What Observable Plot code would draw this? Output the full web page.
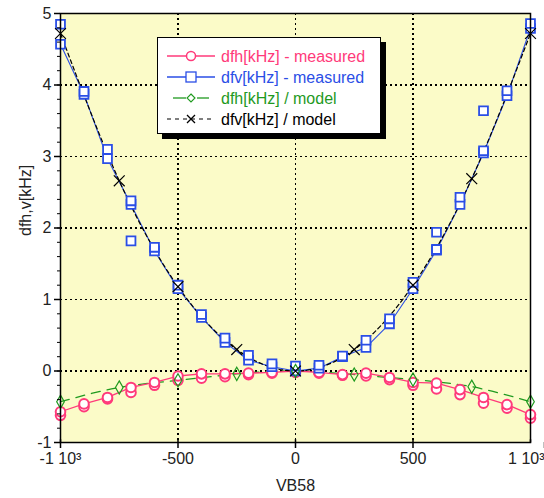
<!DOCTYPE html>
<html>
<head>
<meta charset="utf-8">
<script src="https://cdn.jsdelivr.net/npm/d3@7"></script>
<script src="https://cdn.jsdelivr.net/npm/@observablehq/plot@0.6"></script>
<style>
  html, body { margin: 0; padding: 0; background: #ffffff; }
  #wrap { position: relative; width: 544px; height: 498px; font-family: "Liberation Sans", Arial, sans-serif; }
  #legend { position: absolute; left: 157px; top: 37px; width: 222px; height: 95px; background: #ffffff;
            border: 1px solid #000; box-shadow: 5px 5px 0 #000; }
  #legend svg { display: block; }
  g[aria-label="rule"] line { stroke-dasharray: 2 3 !important; shape-rendering: crispEdges; }
</style>
</head>
<body>
<div id="wrap"></div>
<script>
// ---- data ----
const vb = [-1000, -900, -800, -700, -600, -500, -400, -300, -200, -100, 0, 100, 200, 300, 400, 500, 600, 700, 800, 900, 1000];
const dfvA = [4.85, 3.91, 3.10, 2.38, 1.73, 1.20, 0.79, 0.46, 0.22, 0.10, 0.07, 0.08, 0.21, 0.43, 0.73, 1.24, 1.70, 2.43, 3.08, 3.92, 4.86];
const dfvB = [4.57, 3.87, 2.97, 2.33, 1.68, 1.15, 0.75, 0.40, 0.15, 0.06, 0.00, 0.04, 0.20, 0.33, 0.66, 1.15, 1.69, 2.33, 3.05, 3.85, 4.79];
const vbOut = [-700, 600, 800];
const dfvOut = [1.82, 1.94, 3.64];
const dfhA = [-0.57, -0.46, -0.37, -0.23, -0.16, -0.07, -0.04, -0.04, -0.03, -0.02, 0.00, -0.02, -0.05, -0.03, -0.09, -0.16, -0.17, -0.26, -0.37, -0.47, -0.61];
const dfhB = [-0.62, -0.50, -0.39, -0.30, -0.20, -0.13, -0.10, -0.08, -0.05, -0.03, -0.02, -0.03, -0.06, -0.07, -0.12, -0.20, -0.25, -0.33, -0.45, -0.52, -0.66];
const vbModel = [-1000, -750, -500, -250, 0, 250, 500, 750, 1000];
const dfhModel = [-0.43, -0.23, -0.13, -0.04, 0.00, -0.05, -0.12, -0.22, -0.43];
const dfvModel = [4.72, 2.66, 1.18, 0.30, 0.00, 0.30, 1.20, 2.69, 4.72];
const xTicks = [-1000, -500, 0, 500, 1000];
const xTickLabels = ["-1 10\u00B3", "-500", "0", "500", "1 10\u00B3"];
const xGrid = [-500, 0, 500];
const yTicks = [-1, 0, 1, 2, 3, 4, 5];
const yGrid = [0, 1, 2, 3, 4];
const yMinor = d3.range(-10, 51, 2).map(d => d / 10);
const seriesNames = ["dfh[kHz] - measured", "dfv[kHz] - measured", "dfh[kHz] / model", "dfv[kHz] / model"];

const PINK = "#ff3a7a", BLUE = "#2a4ee6", GREEN = "#1f9a1f", BLACK = "#000000";

const meas = vb.map((x, i) => ({x, v1: dfvA[i], v2: dfvB[i], h1: dfhA[i], h2: dfhB[i]}));
const outl = vbOut.map((x, i) => ({x, v: dfvOut[i]}));
const model = vbModel.map((x, i) => ({x, h: dfhModel[i], v: dfvModel[i]}));
const fmtX = d => xTickLabels[xTicks.indexOf(d)];

const chart = Plot.plot({
  width: 544,
  height: 498,
  marginLeft: 60,
  marginRight: 14,
  marginTop: 13,
  marginBottom: 56,
  style: {fontFamily: "'Liberation Sans', Arial, sans-serif", fontSize: "16px", background: "#ffffff", color: "#222"},
  x: {domain: [-1000, 1000], axis: null, label: null},
  y: {domain: [-1, 5], axis: null, label: null},
  marks: [
    Plot.frame({fill: "#fbfbc8", stroke: "none"}),
    Plot.ruleX(xGrid, {x: d => d, stroke: "#000", strokeWidth: 1.4, strokeDasharray: "2,3"}),
    Plot.ruleY(yGrid, {y: d => d, stroke: "#000", strokeWidth: 1.4, strokeDasharray: "2,3"}),
    // model curves
    Plot.line(model, {x: "x", y: "h", stroke: GREEN, strokeWidth: 1.3, strokeDasharray: "9,7", curve: "natural"}),
    // measured lines
    Plot.line(meas, {x: "x", y: "h1", stroke: PINK, strokeWidth: 1.3}),
    Plot.line(meas, {x: "x", y: "v2", stroke: BLUE, strokeWidth: 1.1}),
    Plot.line(model, {x: "x", y: "v", stroke: BLACK, strokeWidth: 1.2, strokeDasharray: "4,3", curve: "natural"}),
    // measured markers
    Plot.dot(meas, {x: "x", y: "h2", r: 4.8, stroke: PINK, strokeWidth: 2, fill: "#fff"}),
    Plot.dot(meas, {x: "x", y: "h1", r: 4.8, stroke: PINK, strokeWidth: 2, fill: "#fff"}),
    Plot.dot(meas, {x: "x", y: "v2", symbol: "square", r: 5, stroke: BLUE, strokeWidth: 1.8, fill: "#fff"}),
    Plot.dot(meas, {x: "x", y: "v1", symbol: "square", r: 5, stroke: BLUE, strokeWidth: 1.8, fill: "#fff"}),
    Plot.dot(outl, {x: "x", y: "v", symbol: "square", r: 5, stroke: BLUE, strokeWidth: 1.8, fill: "#fff"}),
    // model markers
    Plot.dot(model, {x: "x", y: "h", symbol: "diamond", r: 4, stroke: GREEN, strokeWidth: 1.2, fill: "none"}),
    Plot.dot(model, {x: "x", y: "v", symbol: "times", r: 5, stroke: BLACK, strokeWidth: 1.2}),
    Plot.frame({stroke: "#000", strokeWidth: 1.5}),
    // axes
    Plot.axisX(xTicks.slice(0, 4), {tickSize: 6, tickPadding: 4, stroke: "#000", strokeWidth: 1.5, label: null,
      tickFormat: fmtX, fontSize: 16, fill: "#222"}),
    Plot.axisX(xTicks.slice(4), {tickSize: 6, tickPadding: 4, stroke: "#000", strokeWidth: 1.5, label: null,
      tickFormat: fmtX, fontSize: 16, fill: "#222", textAnchor: "end", dx: 14}),
    Plot.link(xTicks, {x1: d => d, x2: d => d, y1: -1, y2: -0.955, stroke: "#000", strokeWidth: 1.5}),
    Plot.axisY(yMinor, {tickSize: 3, stroke: "#000", tickFormat: () => "", label: null}),
    Plot.axisY(yTicks, {tickSize: 6, tickPadding: 3, stroke: "#000", strokeWidth: 1.5, label: null,
      tickFormat: d => String(d), fontSize: 16, fill: "#222"}),
    Plot.text(["VB58"], {frameAnchor: "bottom", dy: 48, fontSize: 16, fill: "#222"}),
    Plot.text(["dfh,v[kHz]"], {frameAnchor: "left", dx: -35, dy: 8, rotate: -90, fontSize: 16, fill: "#222"})
  ]
});

// make sure the grid is drawn dotted (explicit per-line attributes)
d3.select(chart).selectAll('g[aria-label="rule"]').attr("stroke-dasharray", "2 3");
d3.select(chart).selectAll('g[aria-label="rule"] line').attr("stroke-dasharray", "2 3").style("stroke-dasharray", "2 3");

const wrap = document.getElementById("wrap");
wrap.appendChild(chart);

// legend (overlay box with shadow)
const leg = document.createElement("div");
leg.id = "legend";
const colors = [PINK, BLUE, GREEN, BLACK];
const rowsY = [18, 39, 60, 81];
const svg = d3.create("svg").attr("width", 222).attr("height", 95);
seriesNames.forEach((name, i) => {
  const y = rowsY[i], c = colors[i];
  const g = svg.append("g");
  if (i === 0) {
    g.append("line").attr("x1", 9).attr("x2", 57).attr("y1", y).attr("y2", y).attr("stroke", c).attr("stroke-width", 1.3);
    g.append("circle").attr("cx", 33).attr("cy", y).attr("r", 4.5).attr("fill", "#fff").attr("stroke", c).attr("stroke-width", 1.5);
  } else if (i === 1) {
    g.append("line").attr("x1", 9).attr("x2", 57).attr("y1", y).attr("y2", y).attr("stroke", c).attr("stroke-width", 1.3);
    g.append("rect").attr("x", 28).attr("y", y - 5).attr("width", 10).attr("height", 10).attr("fill", "#fff").attr("stroke", c).attr("stroke-width", 1.3);
  } else if (i === 2) {
    g.append("line").attr("x1", 15).attr("x2", 28).attr("y1", y).attr("y2", y).attr("stroke", c).attr("stroke-width", 1.3);
    g.append("line").attr("x1", 39).attr("x2", 51).attr("y1", y).attr("y2", y).attr("stroke", c).attr("stroke-width", 1.3);
    g.append("path").attr("d", `M${33},${y - 4}L${37},${y}L${33},${y + 4}L${29},${y}Z`).attr("fill", "#fff").attr("stroke", c).attr("stroke-width", 1.1);
  } else {
    g.append("line").attr("x1", 9).attr("x2", 57).attr("y1", y).attr("y2", y).attr("stroke", c).attr("stroke-width", 1.2).attr("stroke-dasharray", "4,4");
    g.append("path").attr("d", `M${29},${y - 4}L${37},${y + 4}M${37},${y - 4}L${29},${y + 4}`).attr("stroke", c).attr("stroke-width", 1.3);
  }
  svg.append("text").attr("x", 63).attr("y", y).attr("dy", "0.35em").attr("fill", c)
    .attr("font-family", "'Liberation Sans', Arial, sans-serif").attr("font-size", 16).text(name);
});
leg.appendChild(svg.node());
wrap.appendChild(leg);
</script>
</body>
</html>
